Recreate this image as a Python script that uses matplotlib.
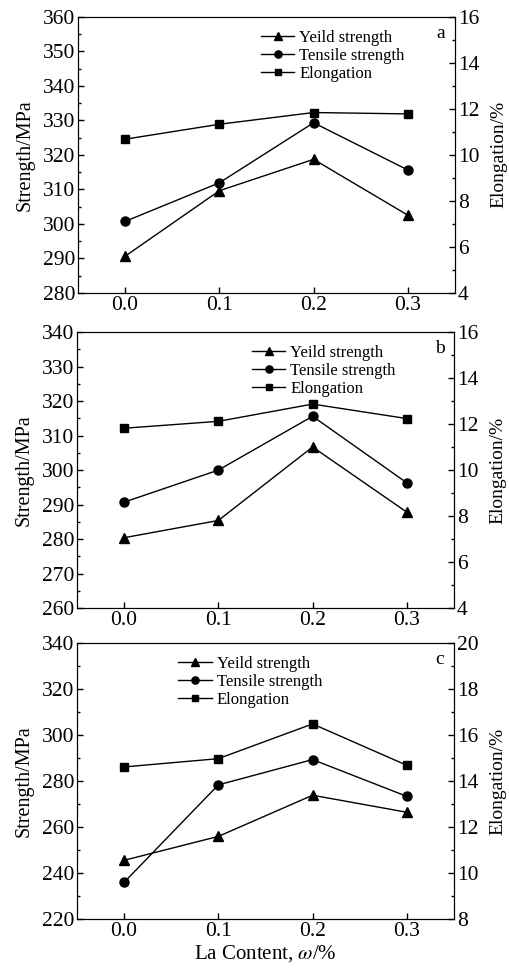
import matplotlib
matplotlib.use('Agg')
import matplotlib.pyplot as plt
from matplotlib.ticker import MultipleLocator

plt.rcParams['font.family'] = ['Liberation Serif', 'DejaVu Serif']
plt.rcParams['mathtext.fontset'] = 'stix'

# La content (wt.%)
la = [0.0, 0.1, 0.2, 0.3]

# panel a
yield_a = [290.6, 309.6, 318.7, 302.5]
tensile_a = [300.7, 311.9, 329.3, 315.6]
elong_a = [10.68, 11.33, 11.84, 11.78]

# panel b
yield_b = [280.4, 285.4, 306.7, 287.8]
tensile_b = [290.7, 300.0, 315.6, 296.3]
elong_b = [11.82, 12.12, 12.87, 12.24]

# panel c
yield_c = [245.5, 255.9, 273.8, 266.4]
tensile_c = [235.9, 278.3, 289.3, 273.3]
elong_c = [14.61, 14.97, 16.48, 14.68]

x_ticks = ['0.0', '0.1', '0.2', '0.3']

panels = [
    # tag, yield, tensile, elong, left lim, left step, right lim, legend x, axes rect
    ('a', yield_a, tensile_a, elong_a, (280, 360), 10, (4, 16), 0.455, [0.153, 0.699, 0.741, 0.2837]),
    ('b', yield_b, tensile_b, elong_b, (260, 340), 10, (4, 16), 0.433, [0.151, 0.375, 0.741, 0.2837]),
    ('c', yield_c, tensile_c, elong_c, (220, 340), 20, (8, 20), 0.238, [0.151, 0.0555, 0.741, 0.2837]),
]

fig = plt.figure(figsize=(5.09, 9.73), dpi=100)

for tag, ys, ts, el, ylim, ystep, rlim, legx, rect in panels:
    ax = fig.add_axes(rect)
    ax2 = ax.twinx()
    l1, = ax.plot(la, ys, color='black', lw=1, marker='^', ms=6.5, label='Yeild strength')
    l2, = ax.plot(la, ts, color='black', lw=1, marker='o', ms=6.5, label='Tensile strength')
    l3, = ax2.plot(la, el, color='black', lw=1, marker='s', ms=5.5, label='Elongation')

    ax.set_xlim(-0.05, 0.35)
    ax.set_ylim(*ylim)
    ax2.set_ylim(*rlim)
    ax.set_xticks(la)
    ax.set_xticklabels(x_ticks)
    ax.yaxis.set_major_locator(MultipleLocator(ystep))
    ax.yaxis.set_minor_locator(MultipleLocator(ystep / 2))
    ax2.yaxis.set_major_locator(MultipleLocator(2))
    ax2.yaxis.set_minor_locator(MultipleLocator(1))

    ax.tick_params(axis='both', which='major', direction='in', length=4, width=1, labelsize=15.5, top=False, pad=2)
    ax.tick_params(axis='both', which='minor', direction='in', length=2.5, width=1)
    ax2.tick_params(axis='y', which='major', direction='in', length=4, width=1, labelsize=15.5, pad=2)
    ax2.tick_params(axis='y', which='minor', direction='in', length=2.5, width=1)

    ax.set_ylabel('Strength/MPa', fontsize=14.5, labelpad=6)
    ax2.set_ylabel('Elongation/%', fontsize=14, labelpad=8)

    ax.text(0.963, 0.94, tag, transform=ax.transAxes, fontsize=14, ha='center', va='center')

    ax2.legend(handles=[l1, l2, l3], loc='upper left', bbox_to_anchor=(legx, 0.995),
               frameon=False, fontsize=12, handlelength=2.0, handletextpad=0.3,
               labelspacing=0.12, borderaxespad=0.3, markerscale=0.8)

    if tag == 'c':
        ax.set_xlabel(r'La Content, $\omega$/%', fontsize=15, labelpad=2)

fig.savefig('out.png', dpi=100)
